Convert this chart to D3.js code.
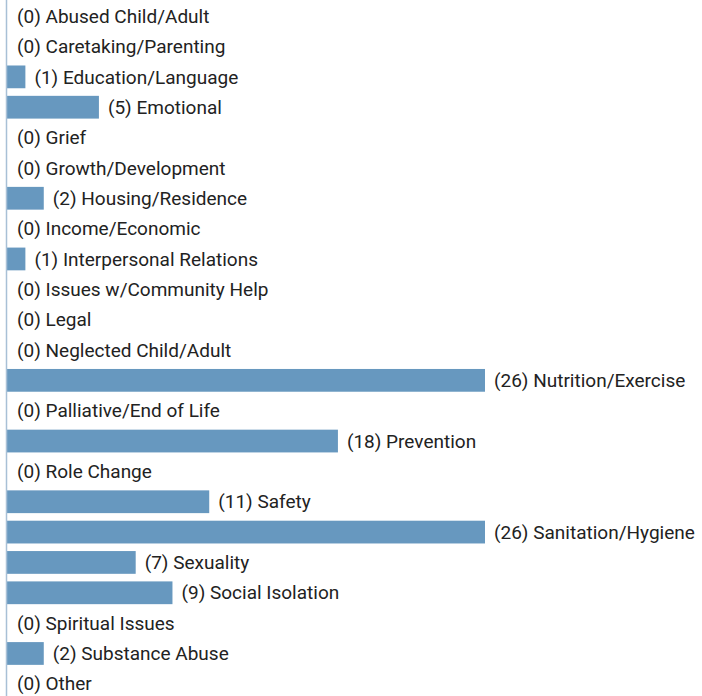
<!DOCTYPE html>
<html>
<head>
<meta charset="utf-8">
<script src="https://cdn.jsdelivr.net/npm/d3@7"></script>
<style>
  body { margin: 0; background: #fff; }
  svg { display: block; }
  .label { font-family: Roboto, sans-serif; font-size: 19px; fill: #222; }
</style>
</head>
<body>
<svg width="702" height="696"></svg>
<script>
var categories = [
  "Abused Child/Adult", "Caretaking/Parenting", "Education/Language", "Emotional",
  "Grief", "Growth/Development", "Housing/Residence", "Income/Economic",
  "Interpersonal Relations", "Issues w/Community Help", "Legal", "Neglected Child/Adult",
  "Nutrition/Exercise", "Palliative/End of Life", "Prevention", "Role Change",
  "Safety", "Sanitation/Hygiene", "Sexuality", "Social Isolation",
  "Spiritual Issues", "Substance Abuse", "Other"
];
var counts = [0, 0, 1, 5, 0, 0, 2, 0, 1, 0, 0, 0, 26, 0, 18, 0, 11, 26, 7, 9, 0, 2, 0];

var data = categories.map(function(c, i) { return {name: c, value: counts[i]}; });

var svg = d3.select("svg");

var x = d3.scaleLinear()
    .domain([0, 26])
    .range([7, 485]);

var y = d3.scaleBand()
    .domain(categories)
    .range([1, 699])
    .paddingInner(0.25)
    .paddingOuter(0.125);

svg.append("g")
    .selectAll("rect")
    .data(data)
    .enter().append("rect")
    .attr("x", x(0))
    .attr("y", function(d) { return y(d.name); })
    .attr("width", function(d) { return x(d.value) - x(0); })
    .attr("height", y.bandwidth())
    .attr("fill", "#6798bf");

svg.append("g")
    .selectAll("text")
    .data(data)
    .enter().append("text")
    .attr("class", "label")
    .attr("x", function(d) { return d.value > 0 ? x(d.value) + 9 : x(0) + 10; })
    .attr("y", function(d) { return y(d.name) + y.bandwidth() / 2; })
    .attr("dy", "0.35em")
    .text(function(d) { return "(" + d.value + ") " + d.name; });

// axis line on the left
svg.append("line")
    .attr("x1", 6.5).attr("x2", 6.5)
    .attr("y1", 0).attr("y2", 696)
    .attr("stroke", "#a8c0d6")
    .attr("stroke-width", 1.5);
</script>
</body>
</html>
